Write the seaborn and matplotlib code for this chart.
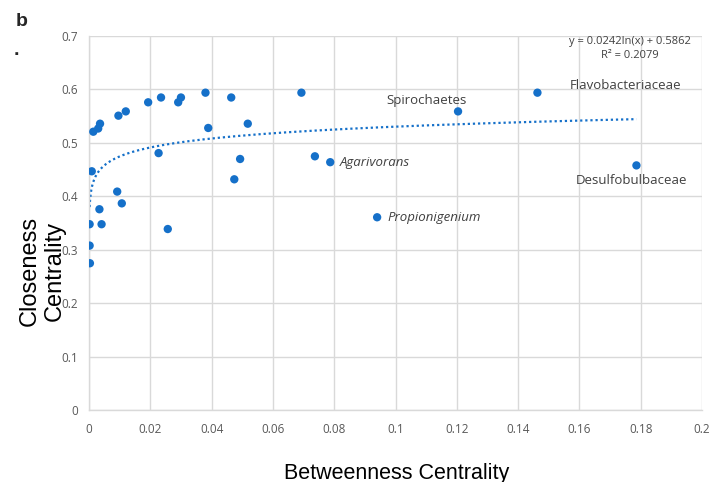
import numpy as np
import pandas as pd
import matplotlib
matplotlib.use("Agg")
import matplotlib.pyplot as plt
import seaborn as sns

# Betweenness vs closeness centrality of network nodes
betweenness = [0.0014, 0.0030, 0.0036, 0.0096, 0.0120, 0.0193, 0.0235, 0.0291,
               0.0300, 0.0380, 0.0464, 0.0389, 0.0518, 0.0227, 0.0493, 0.0474,
               0.0009, 0.0092, 0.0107, 0.0034, 0.0002, 0.0041, 0.0257, 0.0002,
               0.0003, 0.0693, 0.0737, 0.0787, 0.0940, 0.1204, 0.1463, 0.1786]
closeness = [0.521, 0.527, 0.536, 0.551, 0.559, 0.576, 0.585, 0.576,
             0.585, 0.594, 0.585, 0.528, 0.536, 0.481, 0.470, 0.432,
             0.447, 0.409, 0.387, 0.376, 0.348, 0.348, 0.339, 0.308,
             0.275, 0.594, 0.475, 0.464, 0.361, 0.559, 0.594, 0.458]

# Named taxa: (label, x, y, italic)
taxa_names = ["Agarivorans", "Propionigenium", "Spirochaetes",
              "Flavobacteriaceae", "Desulfobulbaceae"]
taxa_x = [0.0787, 0.0940, 0.1204, 0.1463, 0.1786]
taxa_y = [0.464, 0.361, 0.559, 0.594, 0.458]
taxa_italic = [True, True, False, False, False]

# Logarithmic trendline coefficients
trend_a = 0.0242
trend_b = 0.5862
trend_r2 = 0.2079

x_ticks = [0, 0.02, 0.04, 0.06, 0.08, 0.1, 0.12, 0.14, 0.16, 0.18, 0.2]
x_tick_labels = ["0", "0.02", "0.04", "0.06", "0.08", "0.1", "0.12", "0.14",
                 "0.16", "0.18", "0.2"]
y_ticks = [0, 0.1, 0.2, 0.3, 0.4, 0.5, 0.6, 0.7]
y_tick_labels = ["0", "0.1", "0.2", "0.3", "0.4", "0.5", "0.6", "0.7"]

df = pd.DataFrame({"Betweenness": betweenness, "Closeness": closeness})

sns.set_theme(style="white")
plt.rcParams["font.family"] = ["Open Sans", "DejaVu Sans"]

blue = "#1570c9"
grid_col = "#d9d9d9"
text_col = "#404040"

fig = plt.figure(figsize=(7.12, 4.82), dpi=100)
ax = fig.add_axes([0.125, 0.1488, 0.861, 0.7765])

# Trendline y = a ln(x) + b across the data range
tx = np.geomspace(min(betweenness), max(betweenness), 400)
trend = pd.DataFrame({"x": tx, "y": trend_a * np.log(tx) + trend_b})
sns.lineplot(data=trend, x="x", y="y", ax=ax, color=blue, lw=1.6,
             linestyle=(0, (1, 1.3)), zorder=2)

sns.scatterplot(data=df, x="Betweenness", y="Closeness", ax=ax, color=blue,
                s=36, edgecolor="none", zorder=3)

ax.set_xlim(0, 0.2)
ax.set_ylim(0, 0.7)
ax.set_xticks(x_ticks)
ax.set_xticklabels(x_tick_labels)
ax.set_yticks(y_ticks)
ax.set_yticklabels(y_tick_labels)
ax.tick_params(axis="both", length=0, labelsize=8.5, labelcolor="#595959")
ax.tick_params(axis="x", pad=9)
ax.tick_params(axis="y", pad=8)
ax.grid(True, color=grid_col, lw=1)
ax.set_axisbelow(True)
for s in ["top", "right"]:
    ax.spines[s].set_visible(False)
for s in ["left", "bottom"]:
    ax.spines[s].set_color(grid_col)
    ax.spines[s].set_linewidth(1)

ax.set_xlabel("")
ax.set_ylabel("")
fig.text(0.5575, 1 - 478.5 / 482, "Betweenness Centrality", fontsize=15.5,
         family=["Liberation Sans"], color="black", ha="center",
         va="baseline")
fig.text(42 / 712, 1 - 271 / 482, "Closeness\nCentrality", fontsize=17,
         family=["Liberation Sans"], color="black", ha="center",
         va="center", rotation=90, linespacing=1.15)

# Taxon annotations
offsets = {
    "Agarivorans": (0.0032, 0.0, "left", "center"),
    "Propionigenium": (0.0034, 0.0, "left", "center"),
    "Spirochaetes": (-0.0104, 0.0075, "center", "bottom"),
    "Flavobacteriaceae": (0.0287, 0.0135, "center", "center"),
    "Desulfobulbaceae": (-0.0015, -0.028, "center", "center"),
}
for name, x, y, it in zip(taxa_names, taxa_x, taxa_y, taxa_italic):
    dx, dy, ha, va = offsets[name]
    ax.text(x + dx, y + dy, name, fontsize=9.5, color=text_col,
            style="italic" if it else "normal", ha=ha, va=va)

ax.text(0.1765, 0.677, f"y = {trend_a}ln(x) + {trend_b}\nR² = {trend_r2}",
        fontsize=8, color=text_col, ha="center", va="center",
        linespacing=1.35)

fig.text(0.031, 0.955, "b", fontsize=14, fontweight="bold",
         family=["Liberation Sans"], ha="center", va="center")
fig.text(0.023, 0.895, ".", fontsize=14, fontweight="bold",
         family=["Liberation Sans"], ha="center", va="center")

fig.savefig("out.png", dpi=100)
